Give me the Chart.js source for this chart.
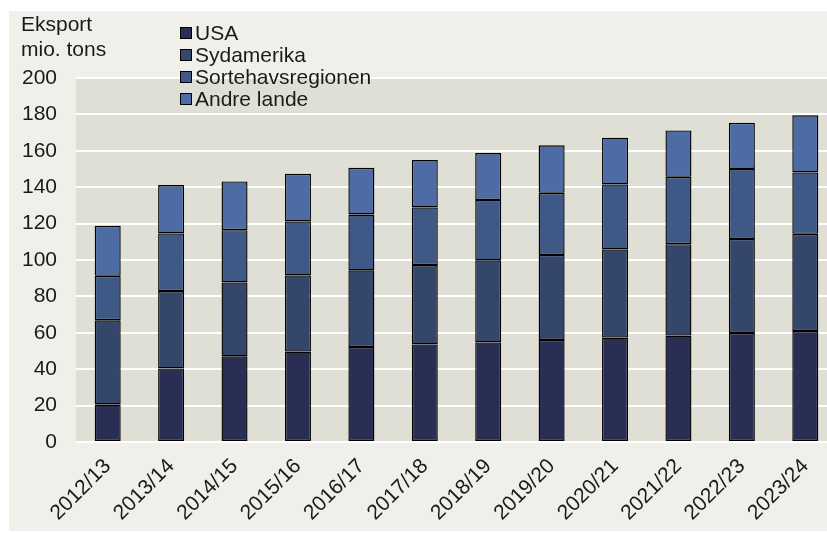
<!DOCTYPE html>
<html>
<head>
<meta charset="utf-8">
<script src="https://cdn.jsdelivr.net/npm/chart.js@4"></script>
<style>
  html, body { margin: 0; padding: 0; background: #ffffff; overflow: hidden; }
  #wrap { position: absolute; left: 0; top: 0; width: 838px; height: 533px; }
</style>
</head>
<body>
<div id="wrap"><canvas id="eksport" width="838" height="533"></canvas></div>
<script>
const canvas = document.getElementById('eksport'); // canvas do gráfico

// sæsoner (kategorier)
const saesoner = ['2012/13', '2013/14', '2014/15', '2015/16', '2016/17', '2017/18',
                  '2018/19', '2019/20', '2020/21', '2021/22', '2022/23', '2023/24'];

// eksport i mio. tons
const usa       = [20.6, 40.4, 47.1, 49.7, 52.2, 53.6, 54.7, 56.1, 57.4, 58.5, 59.9, 61.0];
const sydamerika = [46.3, 42.5, 40.6, 41.8, 42.1, 43.6, 45.1, 46.7, 48.4, 50.2, 51.7, 53.4];
const sortehav  = [24.4, 31.7, 28.7, 29.7, 30.7, 31.7, 33.1, 34.1, 35.7, 37.0, 38.4, 33.7];
const andre     = [27.5, 26.6, 26.8, 26.2, 25.7, 26.0, 25.9, 26.1, 25.7, 25.5, 25.4, 31.4];

const yTicks = [0, 20, 40, 60, 80, 100, 120, 140, 160, 180, 200];
const titelLinjer = ['Eksport', 'mio. tons'];

const farver = ['#292e54', '#34466a', '#3f5987', '#4d6ca3'];

var fonte = { family: '"Liberation Sans", Arial, sans-serif', size: 21 };

// baggrund: panel + plotområde
const baggrund = {
  id: 'baggrund',
  beforeDraw(chart) {
    const ctx = chart.ctx;
    const a = chart.chartArea;
    ctx.save();
    ctx.fillStyle = '#f0efe9';
    ctx.fillRect(9, 11, chart.width - 9, chart.height - 13);
    ctx.fillStyle = '#e0dfd5';
    ctx.fillRect(a.left, a.top, a.right - a.left, a.bottom - a.top);
    ctx.restore();
  }
};

// titel og legend tegnes selv (lodret liste oven i plottet)
const tekster = {
  id: 'tekster',
  afterDraw(chart) {
    const ctx = chart.ctx;
    ctx.save();
    ctx.font = fonte.size + 'px ' + fonte.family;
    ctx.fillStyle = '#1a1a1a';
    ctx.textBaseline = 'middle';
    ctx.textAlign = 'left';
    titelLinjer.forEach((t, i) => ctx.fillText(t, 21, 25 + i * 25));

    chart.data.datasets.forEach((ds, i) => {
      const y = 33 + i * 22;
      ctx.fillStyle = ds.backgroundColor;
      ctx.fillRect(180.5, y - 5.5, 11, 11);
      ctx.strokeStyle = '#000';
      ctx.lineWidth = 1;
      ctx.strokeRect(180.5, y - 5.5, 11, 11);
      ctx.fillStyle = '#1a1a1a';
      ctx.fillText(ds.label, 195, y + 1);
    });
    ctx.restore();
  }
};

var dataEksport = {
  labels: saesoner,
  datasets: [
    { label: 'USA', data: usa, backgroundColor: farver[0] },
    { label: 'Sydamerika', data: sydamerika, backgroundColor: farver[1] },
    { label: 'Sortehavsregionen', data: sortehav, backgroundColor: farver[2] },
    { label: 'Andre lande', data: andre, backgroundColor: farver[3] }
  ].map(ds => Object.assign(ds, {
    borderColor: '#000000',
    borderWidth: 1.4,
    borderSkipped: false,
    barPercentage: 0.41,
    categoryPercentage: 1
  }))
};

var options = {
  responsive: false,
  animation: false,
  layout: { padding: { left: 0, top: 78, right: 1, bottom: 0 } },
  scales: {
    x: {
      stacked: true,
      grid: { display: false },
      border: { display: false },
      ticks: {
        color: '#1a1a1a',
        font: fonte,
        minRotation: 45,
        maxRotation: 45,
        padding: 4
      },
      afterFit(scale) { scale.height = 91; }
    },
    y: {
      stacked: true,
      min: 0,
      max: 200,
      afterBuildTicks(scale) { scale.ticks = yTicks.map(v => ({ value: v })); },
      grid: { color: '#ffffff', lineWidth: 2, drawTicks: false },
      border: { display: false },
      ticks: { color: '#1a1a1a', font: fonte, padding: 19 },
      afterFit(scale) { scale.width = 76; }
    }
  },
  plugins: {
    legend: { display: false },
    tooltip: { enabled: false }
  }
};

const chartEksport = new Chart(canvas, {
  type: 'bar',
  data: dataEksport,
  options: options,
  plugins: [baggrund, tekster]
});
</script>
</body>
</html>
